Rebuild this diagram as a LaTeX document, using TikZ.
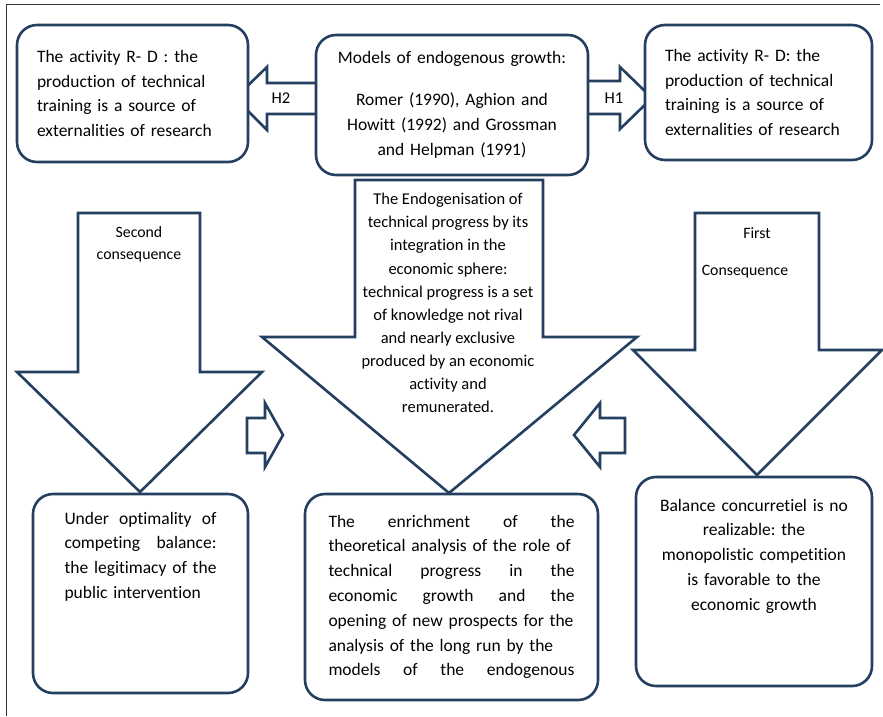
\documentclass[tikz,border=0pt]{standalone}
\usepackage{fontspec}
\setmainfont{Carlito}[Ligatures=NoCommon]
\usetikzlibrary{positioning}
\definecolor{darkblue}{HTML}{243F60}
\frenchspacing
\newcommand{\jline}[2][246pt]{\leavevmode
  \hbox to #1{\spaceskip=\fontdimen2\font plus 1fil\relax #2}}

\begin{document}
\begin{tikzpicture}[
    x=1pt, y=-1pt,
    box/.style   = {draw=darkblue, line width=2.6pt, rounded corners=20pt,
                    fill=white, inner sep=0pt},
    blk/.style   = {draw=darkblue, line width=2.6pt, fill=white, line join=miter},
    txt/.style   = {inner sep=0pt, font=\fontsize{17.5}{24.8}\selectfont},
    small/.style = {inner sep=0pt, font=\fontsize{15.8}{22}\selectfont, align=center}
  ]
  \useasboundingbox (0,0) rectangle (883,716);

  % Frame
  \draw[black!80, line width=0.9pt] (6,716) -- (6,4) -- (880,4);

  % H arrows
  \draw[blk] (316,83) -- (267,83) -- (267,67) -- (235,98) -- (267,130)
    -- (267,114) -- (316,114);
  \draw[blk] (588,81) -- (620,81) -- (620,67) -- (652,98) -- (620,129)
    -- (620,114) -- (588,114);
  \node[small, font=\fontsize{16.5}{18}\selectfont] (h2) at (281,98) {H2};
  \node[small, font=\fontsize{16.5}{18}\selectfont] (h1) at (614,98) {H1};

  % Top boxes
  \node[box, txt, minimum width=231pt, minimum height=137pt,
        text width=191pt, align=left] (rdleft) at (132.5,93.5)
    {The activity R- D : the\\ production of technical\\
     training is a source of\\ externalities of research};
  \node[box, txt, minimum width=272pt, minimum height=140pt,
        text width=250pt, align=center] (models) at (452,105)
    {Models of endogenous growth:\\[17pt] Romer (1990), Aghion and\\
     Howitt (1992) and Grossman\\ and Helpman (1991)};
  \node[box, txt, minimum width=227pt, minimum height=135pt,
        text width=187pt, align=left] (rdright) at (758.5,92.5)
    {The activity R- D: the\\ production of technical\\
     training is a source of\\ externalities of research};

  % Big arrows
  \draw[blk] (78,213) -- (200,213) -- (200,372) -- (262,372) -- (140,492)
    -- (17,372) -- (78,372) -- cycle;
  \draw[blk] (355,180) -- (543,180) -- (543,337) -- (637,337) -- (449,493)
    -- (262,337) -- (355,337) -- cycle;
  \draw[blk] (695,213) -- (819,213) -- (819,350) -- (882,350) -- (757,475)
    -- (633,350) -- (695,350) -- cycle;

  \node[small] (second) at (139,244) {Second\\ consequence};
  \node[small, font=\fontsize{16.5}{23.1}\selectfont] (endog) at (448,303)
    {The Endogenisation of\\ technical progress by its\\ integration in the\\
     economic sphere:\\ technical progress is a set\\ of knowledge not rival\\
     and nearly exclusive\\ produced by an economic\\ activity and\\ remunerated.};
  \node[small] (first) at (757,233) {First};
  \node[small] (conseq) at (745,272) {Consequence};

  % Small arrows
  \draw[blk] (247,418) -- (265,418) -- (265,403) -- (283,435) -- (265,467)
    -- (265,453) -- (247,453) -- cycle;
  \draw[blk] (625,418) -- (600,418) -- (600,403) -- (574,435) -- (600,467)
    -- (600,453) -- (625,453) -- cycle;

  % Bottom boxes
  \node[box, minimum width=215pt, minimum height=199pt] (optim) at (140.5,593.5) {};
  \node[txt, text width=152pt, align=left, below=19pt of optim.north] (optimtxt)
    {\jline[152pt]{Under optimality of}\\ \jline[152pt]{competing balance:}\\
     \jline[152pt]{the legitimacy of the}\\ public intervention};

  \node[box, minimum width=293pt, minimum height=206pt] (enrich) at (451.5,597) {};
  \node[txt, text width=246pt, align=left, below=22pt of enrich.north] (enrichtxt)
    {\jline{The enrichment of the}\\ theoretical analysis of the role of\\
     \jline{technical progress in the}\\ \jline{economic growth and the}\\
     opening of new prospects for the\\ analysis of the long run by the\\
     \jline{models of the endogenous}};

  \node[box, minimum width=236pt, minimum height=209pt] (balance) at (754,581.5) {};
  \node[txt, text width=220pt, align=center, below=23pt of balance.north] (balancetxt)
    {Balance concurretiel is no\\ realizable: the\\ monopolistic competition\\
     is favorable to the\\ economic growth};
\end{tikzpicture}
\end{document}
